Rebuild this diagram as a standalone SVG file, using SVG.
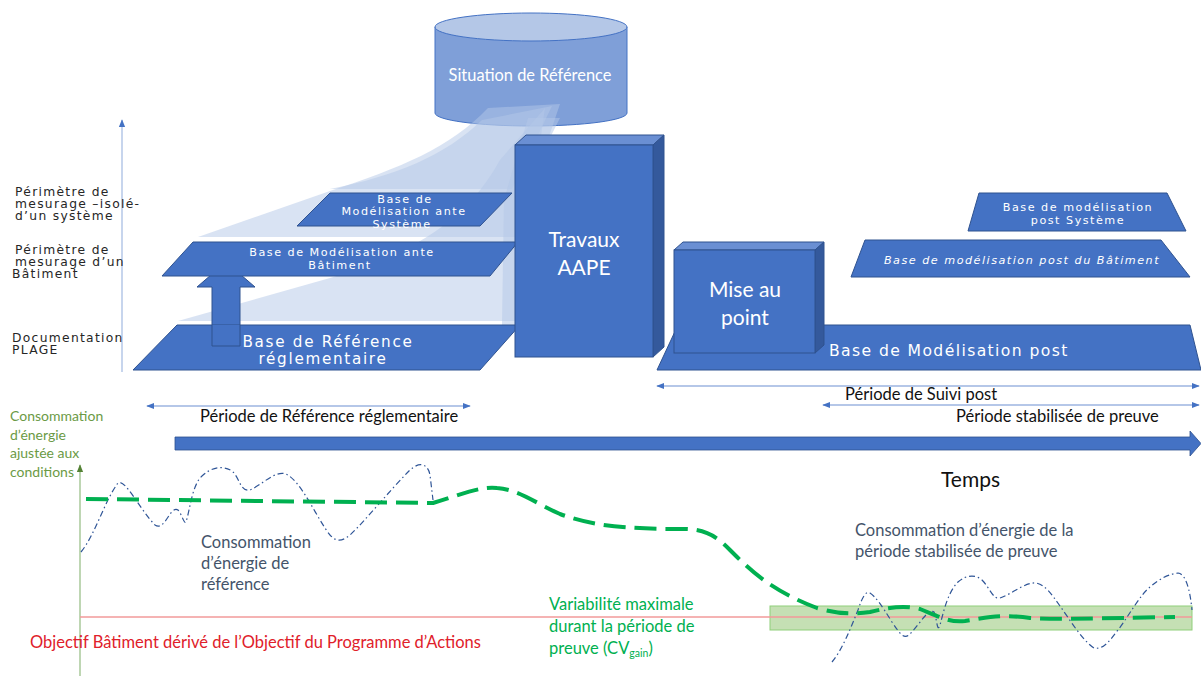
<svg xmlns="http://www.w3.org/2000/svg" width="1201" height="676" viewBox="0 0 1201 676">
<defs>
<style>
.ver{font-family:"DejaVu Sans",Verdana,sans-serif;}
.cal{font-family:Lato,"Open Sans",sans-serif;}
.lbl{font-size:12.3px;fill:#262626;letter-spacing:1.3px;}
.wt{fill:#ffffff;}
.sm{font-size:11.2px;letter-spacing:1.5px;}
.para{fill:#4472c4;stroke:#2f528f;stroke-width:1;}
.front{fill:#4472c4;stroke:#2f528f;stroke-width:1;}
.topf{fill:#6a8fd3;stroke:#2f528f;stroke-width:1;}
.side{fill:#34599c;stroke:#2f528f;stroke-width:1;}
.beam{fill:#b4c7e7;opacity:0.5;}
.per{stroke:#9db5e0;stroke-width:1.5;fill:none;}
.blk{font-size:16.5px;fill:#111;}
.t16{font-size:16.5px;}
</style>
<marker id="ah" viewBox="0 0 10 10" refX="9" refY="5" markerWidth="8" markerHeight="8" orient="auto-start-reverse" markerUnits="userSpaceOnUse">
<path d="M0 1 L10 5 L0 9 Z" fill="#4472c4"/>
</marker>
<marker id="ahg" viewBox="0 0 10 10" refX="9" refY="5" markerWidth="8" markerHeight="8" orient="auto" markerUnits="userSpaceOnUse">
<path d="M0 1 L10 5 L0 9 Z" fill="#548235"/>
</marker>
</defs>

<rect width="1201" height="676" fill="#ffffff"/>

<!-- left axis and level labels -->
<g id="levels">
<line x1="122" y1="372" x2="122" y2="120" stroke="#b4c7e7" stroke-width="1.5" marker-end="url(#ah)"/>
<text class="ver lbl" x="15" y="196">Périmètre de</text>
<text class="ver lbl" x="15" y="208">mesurage –isolé-</text>
<text class="ver lbl" x="15" y="220">d’un système</text>
<text class="ver lbl" x="15" y="254">Périmètre de</text>
<text class="ver lbl" x="15" y="266">mesurage d’un</text>
<text class="ver lbl" x="12" y="278">Bâtiment</text>
<text class="ver lbl" x="12" y="342">Documentation</text>
<text class="ver lbl" x="12" y="354">PLAGE</text>
</g>

<!-- Situation de Référence cylinder -->
<g id="situation">
<path d="M435 27 L435 113 A96 13 0 0 0 627 113 L627 27 Z" fill="#7f9fd8" stroke="#4472c4" stroke-width="1"/>
<ellipse cx="531" cy="27" rx="96" ry="14" fill="#b4c7e7" stroke="#4472c4" stroke-width="1"/>
<text class="cal wt" x="530" y="81" font-size="16.4" text-anchor="middle">Situation de Référence</text>
</g>

<!-- translucent beams -->
<g id="beams">
<path class="beam" d="M198 237 L330 191 C400 168 450 148 488 108 L560 104 L515 237 Z"/>
<path class="beam" d="M330 189 C395 176 445 156 482 120 L552 106 L512 189 Z"/>
<path class="beam" d="M178 321 L330 278 C420 252 470 215 500 160 L545 108 L515 321 Z"/>
<path class="beam" d="M528 118 L560 118 L516 205 L515 325 L502 325 L504 200 Z"/>
</g>

<!-- Up arrow -->
<g id="up-arrow">
<path d="M212 346 L212 287 L197 287 L226 262 L255 287 L240 287 L240 346 Z" fill="#4472c4" stroke="#2f528f" stroke-width="1"/>
</g>

<g id="base-reference">
<path class="para" d="M177 325 L520 325 L480 370 L133 370 Z"/>
<path d="M212 325 L212 346 L240 346 L240 325" fill="#4472c4" stroke="#2f528f" stroke-width="1"/>
<text class="ver wt" x="328" y="347" font-size="15.2" letter-spacing="1.7" text-anchor="middle">Base de Référence</text>
<text class="ver wt" x="323" y="364" font-size="15.2" letter-spacing="1.7" text-anchor="middle">réglementaire</text>
</g>

<g id="base-ante-batiment">
<path class="para" d="M193 242 L518 242 L490 276 L162 276 Z"/>
<text class="ver wt sm" x="342" y="256" text-anchor="middle">Base de Modélisation ante</text>
<text class="ver wt sm" x="340" y="269" text-anchor="middle">Bâtiment</text>
</g>

<g id="base-ante-systeme">
<path class="para" d="M330 193 L512 193 L480 226 L297 226 Z"/>
<text class="ver wt sm" x="405" y="203" text-anchor="middle">Base de</text>
<text class="ver wt sm" x="404" y="215" text-anchor="middle">Modélisation ante</text>
<text class="ver wt sm" x="402" y="228" text-anchor="middle">Système</text>
</g>

<g id="travaux">
<path class="topf" d="M515 145 L526 135 L664 135 L653 145 Z"/>
<path class="side" d="M653 145 L664 135 L664 347 L653 357 Z"/>
<rect class="front" x="515" y="145" width="138" height="212"/>
<text class="cal wt" x="584" y="247" font-size="21" text-anchor="middle">Travaux</text>
<text class="cal wt" x="584" y="275" font-size="21" text-anchor="middle">AAPE</text>
</g>

<g id="base-post">
<path class="para" d="M678 325 L1190 325 L1201 370 L657 370 Z"/>
<text class="ver wt" x="829" y="356" font-size="15.6" letter-spacing="1.4">Base de Modélisation post</text>
</g>

<g id="mise-au-point">
<path class="topf" d="M674 250 L683 242 L824 242 L815 250 Z"/>
<path class="side" d="M815 250 L824 242 L824 345 L815 353 Z"/>
<rect class="front" x="674" y="250" width="141" height="103"/>
<text class="cal wt" x="745" y="297" font-size="21" text-anchor="middle">Mise au</text>
<text class="cal wt" x="745" y="325" font-size="21" text-anchor="middle">point</text>
</g>

<g id="base-post-batiment">
<path class="para" d="M865 240 L1161 240 L1190 277 L851 277 Z"/>
<text class="ver wt sm" x="1022" y="264" font-style="italic" text-anchor="middle">Base de modélisation post du Bâtiment</text>
</g>

<g id="base-post-systeme">
<path class="para" d="M979 193 L1167 193 L1186 231 L968 231 Z"/>
<text class="ver wt sm" x="1078" y="211" text-anchor="middle">Base de modélisation</text>
<text class="ver wt sm" x="1078" y="224" text-anchor="middle">post Système</text>
</g>

<!-- period arrows and time axis -->
<g id="connectors">
<line class="per" x1="147" y1="406" x2="470" y2="406" marker-start="url(#ah)" marker-end="url(#ah)"/>
<line class="per" x1="657" y1="386" x2="1199" y2="386" marker-start="url(#ah)" marker-end="url(#ah)"/>
<line class="per" x1="823" y1="405" x2="1199" y2="405" marker-start="url(#ah)" marker-end="url(#ah)"/>
<path d="M175 437 L1190 437 L1190 431 L1201 443.5 L1190 456 L1190 450 L175 450 Z" fill="#4472c4" stroke="#2f528f" stroke-width="0.8"/>
<line x1="80" y1="676" x2="80" y2="465" stroke="#a9c99a" stroke-width="1.5" marker-end="url(#ahg)"/>
</g>

<g id="period-labels">
<text class="cal blk" x="200" y="422">Période de Référence réglementaire</text>
<text class="cal blk" x="845" y="400">Période de Suivi post</text>
<text class="cal blk" x="956" y="422">Période stabilisée de preuve</text>
<text class="cal" x="941" y="487" font-size="21" fill="#111">Temps</text>
</g>

<!-- chart -->
<g id="chart">
<text class="cal" font-size="14" fill="#6b9a45" x="10" y="421">Consommation</text>
<text class="cal" font-size="14" fill="#6b9a45" x="10" y="440">d’énergie</text>
<text class="cal" font-size="14" fill="#6b9a45" x="10" y="458">ajustée aux</text>
<text class="cal" font-size="14" fill="#6b9a45" x="10" y="477">conditions</text>

<rect x="770" y="606" width="422" height="24" fill="#c5e0b4" stroke="#8fcf7a" stroke-width="1"/>
<line x1="80" y1="617" x2="1192" y2="617" stroke="#f29a9a" stroke-width="1.3"/>

<path d="M81 552 C95 535 105 500 118 483 C125 478 140 510 155 525 C165 532 170 505 178 510 C182 514 184 525 186 522 C190 510 192 485 202 476 C212 467 222 465 232 471 C240 478 240 492 250 490 C262 485 275 470 286 474 C300 481 312 508 325 528 C332 539 338 545 350 535 C366 520 390 490 410 470 C420 461 428 464 430 475 L433 500" fill="none" stroke="#2f5597" stroke-width="1.2" stroke-dasharray="6 3 1.5 3"/>
<path d="M832 662 C842 650 850 630 858 610 C862 598 866 590 870 593 C876 597 882 606 892 622 C900 634 904 640 910 634 C920 624 928 608 934 612 C937 618 937 634 940 625 C944 610 948 592 958 582 C966 575 975 574 982 580 C990 588 993 600 1000 598 C1012 594 1025 582 1036 583 C1046 585 1052 595 1060 606 C1070 620 1082 640 1094 648 C1104 650 1110 640 1118 630 C1130 614 1140 595 1150 587 C1160 578 1170 574 1178 573 C1186 574 1190 590 1192 610" fill="none" stroke="#2f5597" stroke-width="1.2" stroke-dasharray="6 3 1.5 3"/>

<path d="M86 499 L433 503 C460 495 480 486 497 488 C520 490 535 503 560 514 C590 525 620 529 683 529 C705 529 715 535 730 550 C750 570 770 590 817 608 C835 613 850 615 870 612 C890 607 905 605 920 609 C940 617 950 623 965 621 C990 617 1002 614 1030 618 C1060 620 1100 618 1175 617" fill="none" stroke="#00b050" stroke-width="4" stroke-dasharray="22 9"/>

<text class="cal t16" fill="#44546a" x="201" y="548">Consommation</text>
<text class="cal t16" fill="#44546a" x="201" y="569">d’énergie de</text>
<text class="cal t16" fill="#44546a" x="201" y="590">référence</text>
<text class="cal t16" fill="#44546a" x="855" y="536">Consommation d’énergie de la</text>
<text class="cal t16" fill="#44546a" x="855" y="557">période stabilisée de preuve</text>
<text class="cal t16" fill="#00b050" x="549" y="610">Variabilité maximale</text>
<text class="cal t16" fill="#00b050" x="549" y="632">durant la période de</text>
<text class="cal t16" fill="#00b050" x="549" y="654">preuve (CV<tspan font-size="10.5" dy="3">gain</tspan><tspan dy="-3">)</tspan></text>
<text class="cal t16" fill="#e0202a" x="30" y="648">Objectif Bâtiment dérivé de l’Objectif du Programme d’Actions</text>
</g>
</svg>
